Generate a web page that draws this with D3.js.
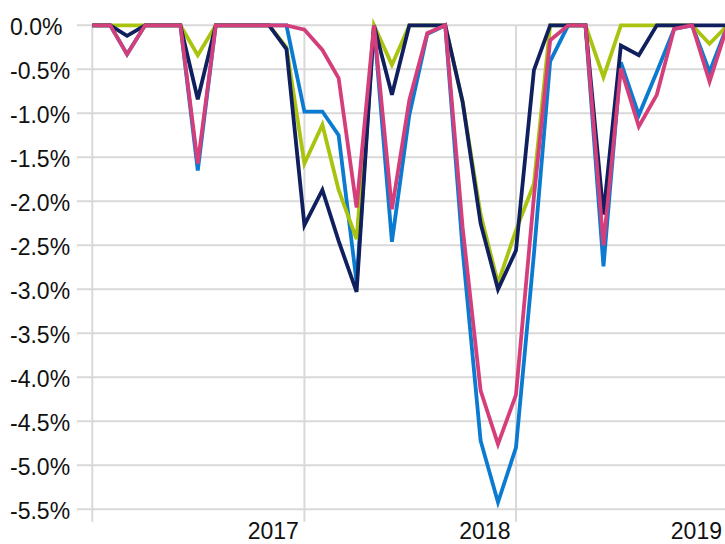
<!DOCTYPE html>
<html>
<head>
<meta charset="utf-8">
<title>Monthly drawdown</title>
<script src="https://d3js.org/d3.v7.min.js"></script>
<style>
  body { margin:0; background:#fff; }
  svg { display:block; }
  .grid-line { stroke:#d9d9d9; stroke-width:2; }
  .tick-label { font-family:'Liberation Sans', Arial, sans-serif; font-size:23px; fill:#111; }
  .series-line { fill:none; stroke-width:3.8; stroke-linejoin:miter; }
</style>
</head>
<body>
<script>
// month starts, Jan 2016 .. Jan 2019
var months = ["2016-01","2016-02","2016-03","2016-04","2016-05","2016-06","2016-07","2016-08","2016-09","2016-10","2016-11","2016-12",
              "2017-01","2017-02","2017-03","2017-04","2017-05","2017-06","2017-07","2017-08","2017-09","2017-10","2017-11","2017-12",
              "2018-01","2018-02","2018-03","2018-04","2018-05","2018-06","2018-07","2018-08","2018-09","2018-10","2018-11","2018-12",
              "2019-01"];

// values in percent
var series1 = [0, 0, -0.33, 0, 0, 0, -1.65, 0, 0, 0, 0, 0,
               -0.98, -0.98, -1.25, -2.92, 0, -2.46, -1.02, -0.10, 0, -2.55, -4.72, -5.42,
               -4.80, -2.60, -0.41, 0, 0, -2.74, -0.42, -1.02, -0.53, -0.04, 0, -0.53,
               0];
var series2 = [0, 0, 0, 0, 0, 0, -0.34, 0, 0, 0, 0, -0.25,
               -1.57, -1.13, -1.87, -2.43, 0, -0.45, 0, 0, 0, -0.87, -2.15, -2.93,
               -2.33, -1.80, 0, 0, 0, -0.59, 0, 0, 0, 0, 0, -0.21,
               0];
var series3 = [0, 0, -0.12, 0, 0, 0, -0.84, 0, 0, 0, 0, -0.27,
               -2.27, -1.87, -2.45, -3.03, 0, -0.79, 0, 0, 0, -0.87, -2.25, -3.00,
               -2.56, -0.51, 0, 0, 0, -2.15, -0.23, -0.34, 0, 0, 0, 0,
               0];
var series4 = [0, 0, -0.33, 0, 0, 0, -1.57, 0, 0, 0, 0, 0,
               -0.05, -0.28, -0.60, -2.07, 0, -2.09, -0.85, -0.09, 0, -2.30, -4.15, -4.76,
               -4.20, -1.95, -0.17, 0, 0, -2.50, -0.49, -1.15, -0.79, -0.04, 0, -0.64,
               0];

var yTicks = [0, -0.5, -1, -1.5, -2, -2.5, -3, -3.5, -4, -4.5, -5, -5.5];
var yearTicks = ["2016", "2017", "2018", "2019"];
var yearLabels = ["2017", "2018", "2019"];

var colours = ["#0a7bd0", "#a9c30f", "#101f5e", "#d43f7b"];

var width = 725, height = 544;
var parseMonth = d3.timeParse("%Y-%m");
var parseYear = d3.timeParse("%Y");

var svg = d3.select("body").append("svg")
    .attr("width", width)
    .attr("height", height);

var x = d3.scaleTime()
    .domain([parseYear("2016"), parseYear("2019")])
    .range([92.3, 727.5]);

var y = d3.scaleLinear()
    .domain([0, -5.5])
    .range([25.3, 509.3]);

// horizontal grid + labels (plain hyphen, left aligned like the original)
var yGroup = svg.append("g");
yGroup.selectAll("line")
  .data(yTicks)
  .enter().append("line")
    .attr("class", "grid-line")
    .attr("x1", 77)
    .attr("x2", width)
    .attr("y1", d => y(d))
    .attr("y2", d => y(d));

yGroup.selectAll("text")
  .data(yTicks)
  .enter().append("text")
    .attr("class", "tick-label")
    .attr("text-anchor", "start")
    .attr("x", 10)
    .attr("y", d => y(d) + 9.5)
    .text(d => d.toFixed(1) + "%");

// vertical grid at year starts
var xGroup = svg.append("g");
xGroup.selectAll("line")
  .data(yearTicks)
  .enter().append("line")
    .attr("class", "grid-line")
    .attr("x1", d => x(parseYear(d)))
    .attr("x2", d => x(parseYear(d)))
    .attr("y1", y(0))
    .attr("y2", y(-5.5) + 12.5);

xGroup.selectAll("text")
  .data(yearLabels)
  .enter().append("text")
    .attr("class", "tick-label")
    .attr("text-anchor", "end")
    .attr("x", d => x(parseYear(d)) - 5.5)
    .attr("y", 539)
    .text(d => d);

var line = d3.line()
    .x(d => x(d.date))
    .y(d => y(d.value));

var allSeries = [series1, series2, series3, series4].map(function(vals, i) {
  return {
    colour: colours[i],
    points: vals.map((v, j) => ({date: parseMonth(months[j]), value: v}))
  };
});

svg.append("g")
  .selectAll("path")
  .data(allSeries)
  .enter().append("path")
    .attr("class", "series-line")
    .attr("d", d => line(d.points))
    .style("stroke", d => d.colour);
</script>
</body>
</html>
